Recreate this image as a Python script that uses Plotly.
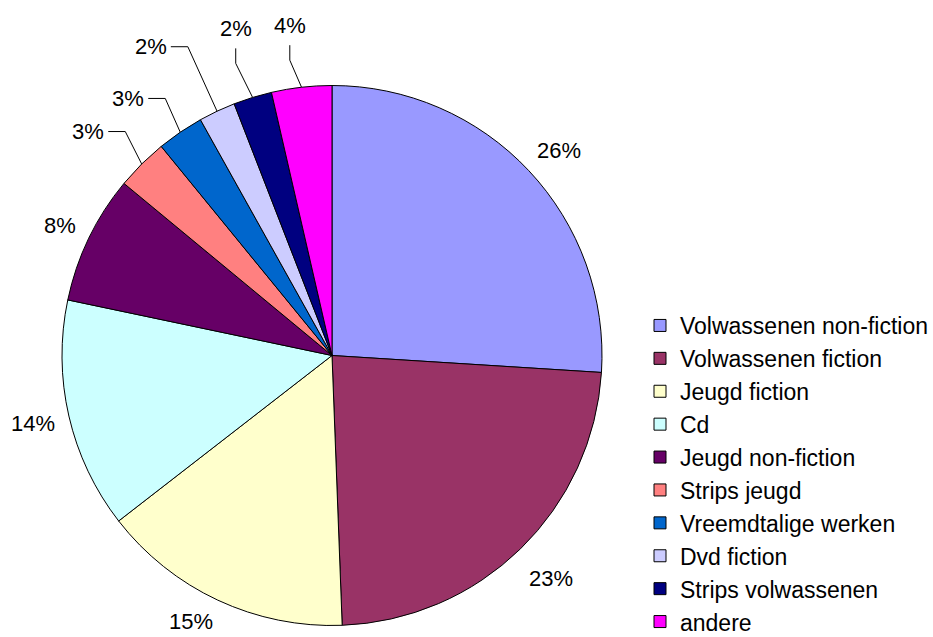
import math
import plotly.graph_objects as go

# ---- data ----
categories = ["Volwassenen non-fiction", "Volwassenen fiction", "Jeugd fiction", "Cd",
              "Jeugd non-fiction", "Strips jeugd", "Vreemdtalige werken", "Dvd fiction",
              "Strips volwassenen", "andere"]
values = [26.0, 23.4, 15.1, 13.8, 7.7, 3.1, 2.8, 2.2, 2.3, 3.6]

# ---- style / layout ----
colors = ["#9999FF", "#993366", "#FFFFCC", "#CCFFFF", "#660066",
          "#FF8080", "#0066CC", "#CCCCFF", "#000080", "#FF00FF"]
W, H = 933, 637
CX, CY, R = 332, 355.5, 270
# label placement: radius of label centre (px) and angular shift (deg)
label_r = [306, 312, 301, 307, 301, 331, 328, 358, 341, 333]
label_shift = [1.2, -0.2, 3.0, 0.2, -0.2, -2.6, -4.2, -5.2, 0.7, -0.8]
# leader style: None, 'h' (horizontal from right side) or 'v' (vertical from bottom)
leader = [None, None, None, None, None, "h", "h", "h", "v", "v"]
FONT = "Liberation Sans, Arial, sans-serif"

fig = go.Figure()
fig.add_trace(go.Pie(
    labels=categories, values=values, sort=False, direction="clockwise", rotation=0,
    marker=dict(colors=colors, line=dict(color="black", width=1)),
    textinfo="none", hoverinfo="label+percent",
    domain=dict(x=[(CX - R) / W, (CX + R) / W], y=[(H - CY - R) / H, (H - CY + R) / H]),
))

total = sum(values)
cum = 0.0
annotations = []
shapes = []
for i, v in enumerate(values):
    mid = (cum + v / 2) / total * 360.0
    cum += v
    pct = f"{round(v / total * 100)}%"
    a = math.radians(mid + label_shift[i])
    lx = CX + label_r[i] * math.sin(a)
    ly = CY - label_r[i] * math.cos(a)
    annotations.append(dict(x=lx, y=ly, xref="x", yref="y", text=pct, showarrow=False,
                            font=dict(family=FONT, size=22, color="black"),
                            xanchor="center", yanchor="middle"))
    if leader[i]:
        am = math.radians(mid)
        ex = CX + R * math.sin(am)
        ey = CY - R * math.cos(am)
        if leader[i] == "h":
            p0 = (lx + 20, ly)
            p1 = (lx + 37, ly)
        else:
            p0 = (lx, ly + 20)
            p1 = (lx, ly + 35)
        shapes.append(dict(type="path", xref="x", yref="y",
                           path=f"M{p0[0]},{p0[1]} L{p1[0]},{p1[1]} L{ex},{ey}",
                           line=dict(color="black", width=1)))

fig.update_layout(
    width=W, height=H, margin=dict(l=0, r=0, t=0, b=0, autoexpand=False),
    paper_bgcolor="white", plot_bgcolor="rgba(0,0,0,0)",
    xaxis=dict(range=[0, W], visible=False, fixedrange=True),
    yaxis=dict(range=[H, 0], visible=False, fixedrange=True),
    annotations=annotations, shapes=shapes,
    legend=dict(x=640 / W, y=1 - 473.5 / H, xanchor="left", yanchor="middle",
                font=dict(family=FONT, size=23, color="black"),
                bgcolor="rgba(0,0,0,0)", itemclick=False, itemdoubleclick=False),
    showlegend=True,
)

fig.write_html("out.html", config={"displayModeBar": False},
               post_script="document.body.style.margin='0';")
